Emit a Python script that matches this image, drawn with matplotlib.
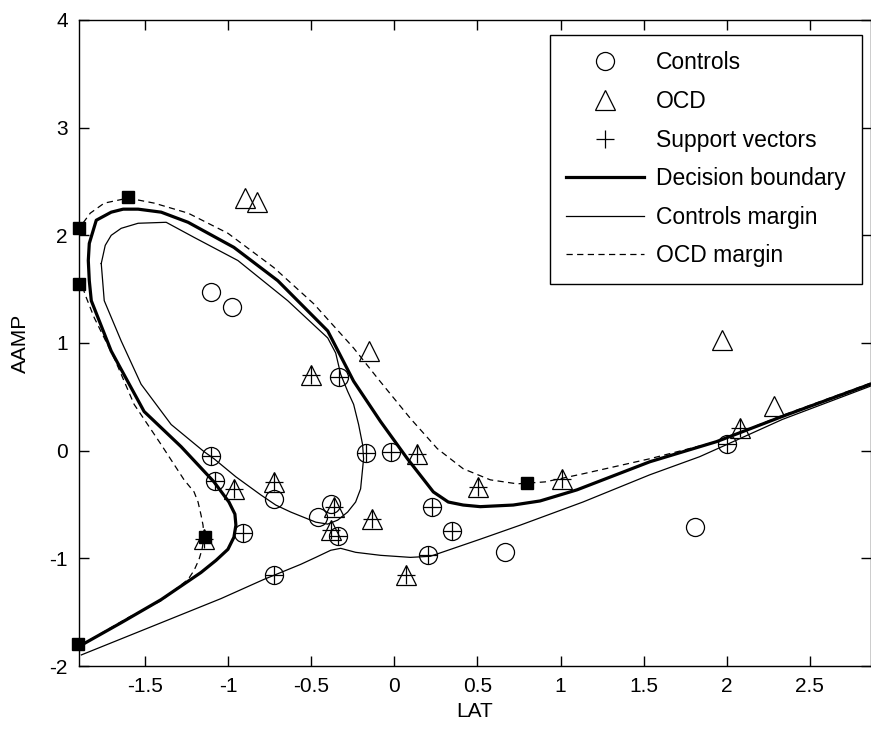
import numpy as np
import matplotlib
matplotlib.use('Agg')
import matplotlib.pyplot as plt

plt.rcParams['font.family'] = ['Liberation Sans', 'DejaVu Sans']

# controls (LAT, AAMP) and whether each one is a support vector
ctrl_lat = [-1.105, -0.979, -0.336, -1.105, -1.081, -0.913, -0.727, -0.727, -0.174, -0.018,
            -0.462, -0.384, -0.342, 0.228, 0.204, 0.348, 0.667, 1.808, 2.0]
ctrl_aamp = [1.477, 1.336, 0.682, -0.047, -0.28, -0.766, -0.449, -1.159, -0.019, -0.009,
             -0.617, -0.495, -0.794, -0.523, -0.972, -0.748, -0.944, -0.71, 0.065]
ctrl_sv = [0, 0, 1, 1, 1, 1, 0, 1, 1, 1, 0, 0, 1, 1, 1, 1, 0, 0, 1]

# OCD patients
ocd_lat = [-0.901, -0.829, -0.156, -0.505, 1.97, 2.288, 2.084, -0.967, -0.727, 0.138,
           0.505, 1.009, -0.138, 0.072, -1.147, -0.366, -0.384]
ocd_aamp = [2.346, 2.308, 0.925, 0.70, 1.028, 0.411, 0.206, -0.355, -0.29, -0.028,
            -0.336, -0.262, -0.636, -1.159, -0.822, -0.523, -0.738]
ocd_sv = [0, 0, 0, 1, 0, 0, 1, 1, 1, 1, 1, 1, 1, 1, 1, 1, 1]

# filled square marks
sq_lat = [-1.898, -1.898, -1.604, -1.141, 0.799, -1.904]
sq_aamp = [2.065, 1.551, 2.355, -0.804, -0.299, -1.794]

# decision boundary
db_lat = [-1.916, -1.646, -1.405, -1.165, -1.075, -1.003, -0.967, -0.955, -0.961, -0.997,
          -1.087, -1.285, -1.508, -1.706, -1.826, -1.838, -1.844, -1.838, -1.796, -1.706,
          -1.634, -1.544, -1.405, -1.243, -0.967, -0.703, -0.402, -0.246, -0.084, 0.078,
          0.234, 0.324, 0.414, 0.517, 0.715, 0.877, 1.099, 1.538, 1.940, 2.336, 2.865]
db_aamp = [-1.832, -1.598, -1.383, -1.131, -1.019, -0.916, -0.804, -0.692, -0.589, -0.477,
           -0.290, 0.037, 0.364, 0.925, 1.393, 1.579, 1.766, 1.925, 2.140, 2.215,
           2.243, 2.243, 2.215, 2.121, 1.888, 1.579, 1.112, 0.645, 0.271, -0.075,
           -0.383, -0.477, -0.505, -0.520, -0.505, -0.467, -0.364, -0.103, 0.084, 0.318, 0.617]

# controls margin: lower branch and closed loop
cm1_lat = [-1.886, -1.405, -1.045, -0.787, -0.565, -0.474, -0.384, -0.324, -0.234, -0.084,
           0.096, 0.216, 0.517, 0.757, 1.135, 1.538, 1.838, 2.0, 2.336, 2.865]
cm1_aamp = [-1.897, -1.598, -1.374, -1.196, -1.056, -0.991, -0.925, -0.907, -0.944, -0.972,
            -0.991, -0.981, -0.822, -0.692, -0.477, -0.224, -0.056, 0.056, 0.290, 0.598]
cm2_lat = [-1.766, -1.742, -1.706, -1.646, -1.544, -1.375, -1.207, -0.943, -0.643, -0.402,
           -0.354, -0.324, -0.282, -0.246, -0.216, -0.192, -0.186, -0.204, -0.234, -0.282,
           -0.342, -0.402, -0.474, -0.625, -0.715, -0.805, -0.955, -1.087, -1.147, -1.345,
           -1.526, -1.646, -1.748, -1.766]
cm2_aamp = [1.738, 1.907, 2.0, 2.065, 2.112, 2.121, 1.981, 1.766, 1.393, 1.047,
            0.907, 0.710, 0.551, 0.430, 0.243, 0.056, -0.075, -0.355, -0.477, -0.570,
            -0.645, -0.682, -0.664, -0.570, -0.505, -0.411, -0.243, -0.075, -0.009, 0.243,
            0.617, 1.019, 1.393, 1.738]

# OCD margin
om_lat = [-1.886, -1.604, -1.405, -1.243, -1.207, -1.177, -1.159, -1.147, -1.153, -1.165,
          -1.183, -1.207, -1.267, -1.405, -1.568, -1.688, -1.808, -1.856, -1.946, -1.886,
          -1.832, -1.748, -1.604, -1.447, -1.243, -1.003, -0.727, -0.486, -0.246, -0.102,
          0.096, 0.258, 0.414, 0.577, 0.739, 0.907, 1.135, 1.538, 1.940, 2.336, 2.865]
om_aamp = [-1.804, -1.551, -1.393, -1.196, -1.112, -1.009, -0.916, -0.804, -0.692, -0.598,
           -0.477, -0.383, -0.271, 0.056, 0.430, 0.860, 1.234, 1.421, 1.813, 2.093,
           2.206, 2.299, 2.346, 2.299, 2.206, 2.019, 1.701, 1.364, 0.953, 0.673,
           0.299, 0.019, -0.168, -0.271, -0.308, -0.290, -0.215, -0.075, 0.084, 0.327, 0.626]

ctrl_lat = np.array(ctrl_lat); ctrl_aamp = np.array(ctrl_aamp)
ocd_lat = np.array(ocd_lat); ocd_aamp = np.array(ocd_aamp)
ctrl_sv = np.array(ctrl_sv, bool); ocd_sv = np.array(ocd_sv, bool)
sv_lat = np.concatenate([ctrl_lat[ctrl_sv], ocd_lat[ocd_sv]])
sv_aamp = np.concatenate([ctrl_aamp[ctrl_sv], ocd_aamp[ocd_sv]])

fig = plt.figure(figsize=(8.71, 7.29), dpi=100)
ax = fig.add_axes([0.0907, 0.0864, 0.9093, 0.8862])

ax.plot(ctrl_lat, ctrl_aamp, 'o', color='k', mfc='none', ms=13, mew=0.9, label='Controls')
ax.plot(ocd_lat, ocd_aamp, '^', color='k', mfc='none', ms=14, mew=0.9, label='OCD')
ax.plot(sv_lat, sv_aamp, '+', color='k', ms=13, mew=0.9, label='Support vectors')
ax.plot(db_lat, db_aamp, 'k-', lw=2.3, label='Decision boundary')
ax.plot(cm1_lat, cm1_aamp, 'k-', lw=0.9, label='Controls margin')
ax.plot(cm2_lat, cm2_aamp, 'k-', lw=0.9)
ax.plot(om_lat, om_aamp, 'k--', lw=0.9, dashes=(5, 3.5), label='OCD margin')
ax.plot(sq_lat, sq_aamp, 's', color='k', ms=9, clip_on=False)

ax.set_xlim(-1.9, 2.87)
ax.set_ylim(-2, 4)
ax.set_xticks([-1.5, -1, -0.5, 0, 0.5, 1, 1.5, 2, 2.5])
ax.set_xticklabels(['-1.5', '-1', '-0.5', '0', '0.5', '1', '1.5', '2', '2.5'])
ax.set_yticks([-2, -1, 0, 1, 2, 3, 4])
ax.set_yticklabels(['-2', '-1', '0', '1', '2', '3', '4'])
ax.tick_params(direction='in', length=7, width=1, top=True, right=True, labelsize=15, pad=8)
for s in ax.spines.values():
    s.set_linewidth(1)
ax.set_xlabel('LAT', fontsize=15, labelpad=4)
ax.set_ylabel('AAMP', fontsize=15, labelpad=14)

leg = ax.legend(loc='upper right', bbox_to_anchor=(0.9886, 0.9768), fontsize=16.5, frameon=True,
                fancybox=False, edgecolor='k', framealpha=1, handlelength=3.4,
                handletextpad=0.5, labelspacing=0.68, borderpad=0.72, borderaxespad=0)
leg.get_frame().set_linewidth(1)

plt.savefig('out.png', dpi=100)
